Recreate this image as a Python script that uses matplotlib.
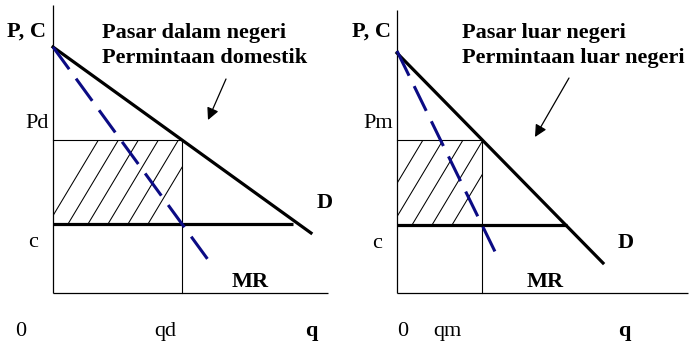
import matplotlib
matplotlib.use("Agg")
import matplotlib.pyplot as plt
from matplotlib.patches import Rectangle
from matplotlib.lines import Line2D

# ---------------- data (units: pixel-scaled price / quantity) ----------------
# left panel: domestic market
L_D_start = [0, 246]      # demand curve start (q, p)
L_D_end = [258, 60]       # demand curve end (q, p)
L_MR_end_q = 155          # marginal revenue end quantity
L_q_star = 129            # qd
L_c = 69                  # marginal cost level
L_c_end = 240             # end of cost line
L_axis = [275, 288]       # axis extent (q max, p max)
L_hatch_k = [0, 1, 2, 3, 4, 5]

# right panel: foreign market
R_D_start = [0, 240]
R_D_end = [206, 30]
R_MR_start_p = 242
R_MR_end_q = 103
R_q_star = 85             # qm
R_c = 68
R_c_end = 170
R_axis = [291, 283]
R_hatch_k = [-1, 0, 1, 2, 3]

L_title = ["Pasar dalam negeri", "Permintaan domestik"]
R_title = ["Pasar luar negeri", "Permintaan luar negeri"]
L_price_label, L_q_label = "Pd", "qd"
R_price_label, R_q_label = "Pm", "qm"

FONT = "Liberation Serif"
FS = 16
NAVY = "#0b0b84"

W, H = 691, 345
fig = plt.figure(figsize=(W / 100, H / 100), dpi=100)
fig.patch.set_facecolor("white")


def panel(rect, xlim, ylim, D0, D1, mr_p0, mr_q1, qs, c, c_end, axis, hatch_k,
          title, plabel, qlabel, txt):
    ax = fig.add_axes(rect)
    ax.set_xlim(*xlim)
    ax.set_ylim(*ylim)
    ax.axis("off")
    slope = (D1[1] - D0[1]) / (D1[0] - D0[0])
    ps = D0[1] + slope * qs                      # price at optimum
    # axes
    ax.plot([0, 0], [0, axis[1]], color="black", lw=0.9, solid_capstyle="butt")
    ax.plot([0, axis[0]], [0, 0], color="black", lw=0.9, solid_capstyle="butt")
    # price / quantity guide lines
    ax.plot([0, qs], [ps, ps], color="black", lw=0.8)
    ax.plot([qs, qs], [0, ps], color="black", lw=0.8)
    # hatching inside rectangle
    clip = Rectangle((0, c), qs, ps - c, transform=ax.transData,
                     facecolor="none", edgecolor="none")
    ax.add_patch(clip)
    dq_dp = 0.6
    for k in hatch_k:
        q0 = -5 + 20 * k
        ln = Line2D([q0, q0 + dq_dp * 200], [c, c + 200], color="black", lw=0.75)
        ax.add_line(ln)
        ln.set_clip_path(clip)
    # cost line
    ax.plot([0, c_end], [c, c], color="black", lw=2.3, solid_capstyle="butt")
    # demand
    ax.plot([D0[0], D1[0]], [D0[1], D1[1]], color="black", lw=2.3)
    # marginal revenue (dashed)
    mr_slope = (c - mr_p0) / qs
    ax.plot([0, mr_q1], [mr_p0, mr_p0 + mr_slope * mr_q1], color=NAVY, lw=2.2,
            linestyle=(0, (9.0, 3.8)), dash_capstyle="butt")
    # texts
    kw = dict(fontfamily=FONT, fontsize=FS, va="baseline", ha="left")
    ax.text(*txt["PC"], "P, C", fontweight="bold", **kw)
    ax.text(*txt["t1"], title[0], fontweight="bold", **kw)
    ax.text(*txt["t2"], title[1], fontweight="bold", **kw)
    ax.text(*txt["P"], plabel, **kw)
    ax.text(*txt["c"], "c", **kw)
    ax.text(*txt["D"], "D", fontweight="bold", **kw)
    ax.text(*txt["MR"], "MR", fontweight="bold", **kw)
    ax.text(*txt["0"], "0", **kw)
    ax.text(*txt["qs"], qlabel, **kw)
    ax.text(*txt["q"], "q", fontweight="bold", **kw)
    ax.annotate("", xy=txt["arrow_head"], xytext=txt["arrow_tail"],
                arrowprops=dict(arrowstyle="-|>", lw=0.9, color="black",
                                mutation_scale=18, shrinkA=0, shrinkB=0))
    return ax


L_txt = {"PC": (-46, 256), "t1": (49, 255), "t2": (49, 230), "P": (-28, 165),
         "c": (-25, 46), "D": (264, 85), "MR": (179, 6), "0": (-38, -43),
         "qs": (101, -43), "q": (252, -43),
         "arrow_tail": (173, 214), "arrow_head": (155, 173)}
R_txt = {"PC": (-45, 256), "t1": (65, 255), "t2": (65, 230), "P": (-34, 165),
         "c": (-25, 45), "D": (221, 45), "MR": (130, 6), "0": (0, -43),
         "qs": (36, -43), "q": (221, -43),
         "arrow_tail": (172, 215), "arrow_head": (138, 156)}

panel([0, 0, 345 / W, 1], (-53, 292), (-52, 293), L_D_start, L_D_end,
      L_D_start[1], L_MR_end_q, L_q_star, L_c, L_c_end, L_axis, L_hatch_k,
      L_title, L_price_label, L_q_label, L_txt)
panel([345 / W, 0, 346 / W, 1], (-52, 294), (-52, 293), R_D_start, R_D_end,
      R_MR_start_p, R_MR_end_q, R_q_star, R_c, R_c_end, R_axis, R_hatch_k,
      R_title, R_price_label, R_q_label, R_txt)

fig.savefig("out.png", dpi=100, facecolor="white")
